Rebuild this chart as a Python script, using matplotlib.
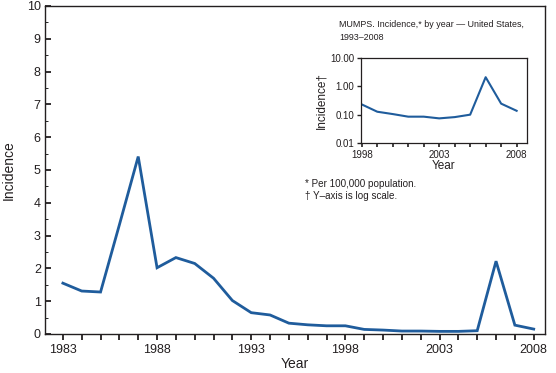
import matplotlib
matplotlib.use("Agg")
import matplotlib.pyplot as plt
from matplotlib.ticker import MultipleLocator, FixedLocator, FixedFormatter

plt.rcParams["font.family"] = ["Liberation Sans", "DejaVu Sans"]

years = list(range(1983, 2009))
incidence = [1.55, 1.31, 1.28, 3.33, 5.41, 2.02, 2.33, 2.15, 1.70, 1.02,
             0.65, 0.58, 0.33, 0.28, 0.25, 0.25, 0.14, 0.12, 0.09, 0.09,
             0.08, 0.08, 0.10, 2.22, 0.27, 0.15]

inset_years = years[15:]
inset_incidence = [0.23, 0.127, 0.105, 0.085, 0.085, 0.074, 0.082, 0.10, 2.1, 0.245, 0.137]

xtick_labels = [1983, 1988, 1993, 1998, 2003, 2008]
inset_xtick_labels = [1998, 2003, 2008]
inset_yticks = [0.01, 0.1, 1, 10]
inset_ytick_labels = ["0.01", "0.10", "1.00", "10.00"]

LINE = "#1f5c9c"
INK = "#231f20"

fig = plt.figure(figsize=(5.56, 3.73), dpi=100)
ax = fig.add_axes([45 / 556, 1 - 334 / 373, 500 / 556, 328 / 373])
ax.plot(years, incidence, color=LINE, lw=2.0, solid_joinstyle="miter")
ax.set_xlim(1982.05, 2008.6)
ax.set_ylim(0, 10)
ax.xaxis.set_major_locator(FixedLocator(xtick_labels))
ax.xaxis.set_minor_locator(MultipleLocator(1))
ax.yaxis.set_major_locator(MultipleLocator(1))
ax.yaxis.set_minor_locator(MultipleLocator(0.5))
ax.tick_params(axis="x", which="both", direction="out", length=4, width=1.3,
               labelsize=9, colors=INK, pad=3)
ax.tick_params(axis="y", which="major", direction="in", length=4, width=1.3,
               labelsize=9, colors=INK, pad=3)
ax.tick_params(axis="y", which="minor", direction="in", length=2, width=0.6)
for s in ax.spines.values():
    s.set_linewidth(1.0)
    s.set_color(INK)
ax.set_xlabel("Year", fontsize=10, color=INK, labelpad=1)
ax.set_ylabel("Incidence", fontsize=10, color=INK, labelpad=8)

# inset, log scale
ins = fig.add_axes([361 / 556, 1 - 143 / 373, 166 / 556, 85 / 373])
ins.plot(inset_years, inset_incidence, color=LINE, lw=1.5)
ins.set_yscale("log")
ins.set_ylim(0.01, 10)
ins.set_xlim(1997.95, 2008.67)
ins.yaxis.set_major_locator(FixedLocator(inset_yticks))
ins.yaxis.set_major_formatter(FixedFormatter(inset_ytick_labels))
ins.yaxis.set_minor_locator(FixedLocator([]))
ins.xaxis.set_major_locator(FixedLocator(inset_xtick_labels))
ins.xaxis.set_minor_locator(MultipleLocator(1))
ins.tick_params(axis="x", which="both", direction="out", length=3, width=1.2,
                labelsize=7, colors=INK, pad=2)
ins.tick_params(axis="y", direction="out", length=3, width=1.0,
                labelsize=7, colors=INK, pad=2)
for s in ins.spines.values():
    s.set_linewidth(0.9)
    s.set_color(INK)
ins.set_xlabel("Year", fontsize=8.5, color=INK, labelpad=0)
ins.set_ylabel("Incidence\u2020", fontsize=8.5, color=INK, labelpad=2)

fig.text(339 / 556, 1 - 20 / 373,
         "MUMPS. Incidence,* by year \u2014 United States,\n1993\u20132008",
         fontsize=6.4, color=INK, ha="left", va="top", linespacing=1.5)
fig.text(305 / 556, 1 - 179 / 373,
         "* Per 100,000 population.\n\u2020 Y\u2013axis is log scale.",
         fontsize=7.1, color=INK, ha="left", va="top", linespacing=1.25)

fig.savefig("out.png", dpi=100)
